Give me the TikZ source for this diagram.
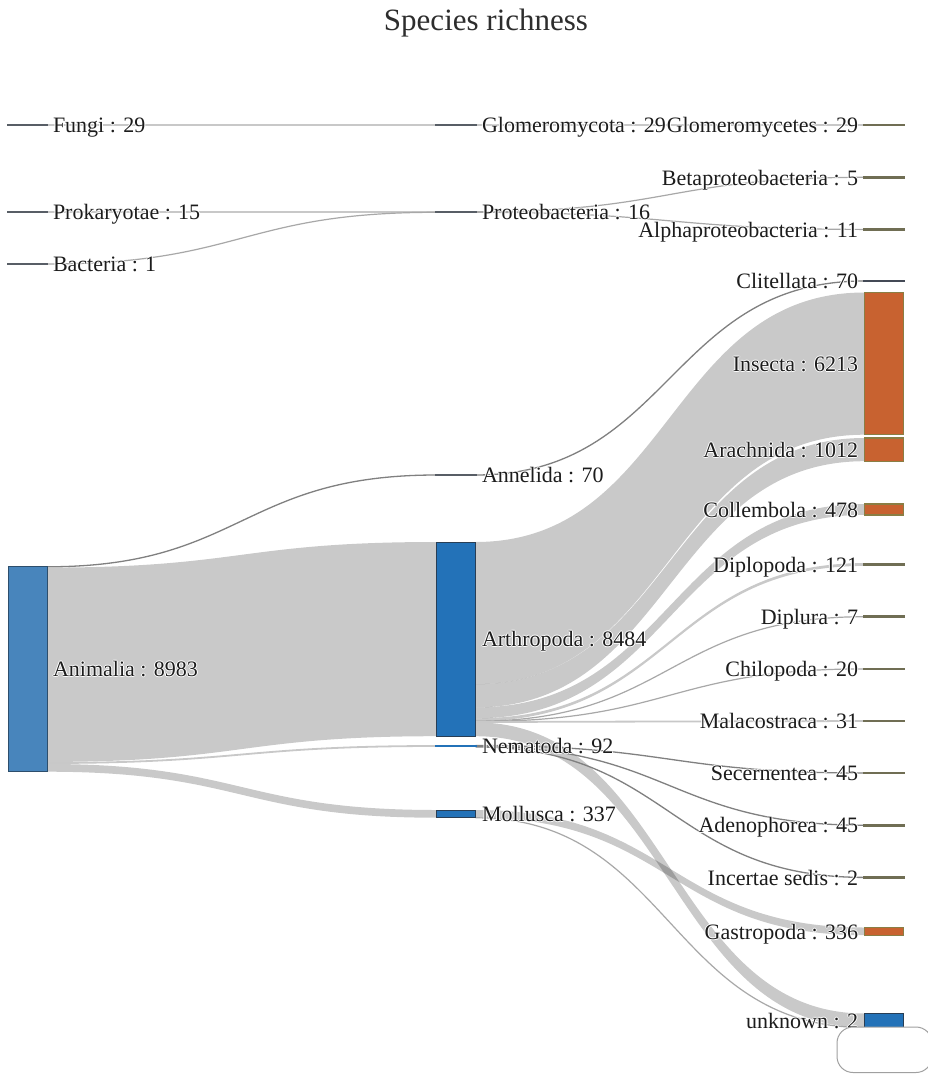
\documentclass[tikz,border=0pt]{standalone}
\usepackage{fontspec}
\IfFontExistsTF{Liberation Serif}{\newfontfamily\lsf{Liberation Serif}}{\newfontfamily\lsf{DejaVu Serif}}
\usetikzlibrary{calc}
\pgfdeclarelayer{bg}
\pgfsetlayers{bg,main}
\definecolor{lnkc}{RGB}{200,200,200}
\definecolor{lnkm}{RGB}{168,168,168}
\definecolor{lnkd}{RGB}{128,128,128}
\definecolor{gnode}{RGB}{88,94,102}
\definecolor{onode}{RGB}{112,110,84}
\definecolor{slate}{RGB}{68,74,86}
\definecolor{animfill}{RGB}{72,133,188}
\definecolor{animdraw}{RGB}{45,78,108}
\definecolor{bluefill}{RGB}{35,114,184}
\definecolor{bluedraw}{RGB}{40,62,85}
\definecolor{orfill}{RGB}{200,98,48}
\definecolor{ordraw}{RGB}{138,126,68}
\definecolor{txt}{RGB}{28,28,28}
\definecolor{tipc}{RGB}{160,160,160}
\newcommand\halo[1]{{\setbox0\hbox{#1}%
  \rlap{\color{white}\kern1pt\copy0}%
  \rlap{\color{white}\kern-1pt\copy0}%
  \rlap{\color{white}\raise1pt\copy0}%
  \rlap{\color{white}\lower1pt\copy0}%
  \box0}}
\newcommand\band[6]{\fill[band] (#1.east |- 0,#2) .. controls +(195,0) and +(-195,0) .. (#4.west |- 0,#5) -- (#4.west |- 0,#6) .. controls +(-195,0) and +(195,0) .. (#1.east |- 0,#3) -- cycle;}
\newcommand\lnk[5][lkmid]{\draw[#1] (#2.east |- 0,#3) .. controls +(195,0) and +(-195,0) .. (#4.west |- 0,#5);}
\tikzset{
  nd/.style={inner sep=0pt, outer sep=0pt, minimum width=39pt, line width=1pt, draw},
  thinnd/.style={nd, minimum height=0.6pt, line width=2.2pt},
  gthin/.style={thinnd, draw=gnode, fill=gnode},
  othin/.style={thinnd, draw=onode, fill=onode},
  bluebox/.style={nd, fill=bluefill, draw=bluedraw},
  orbox/.style={nd, fill=orfill, draw=ordraw, line width=1.4pt},
  lbl/.style={inner sep=0pt, outer sep=0pt, font=\lsf\fontsize{22}{24}\selectfont, text=txt},
  lleft/.style={lbl, anchor=base west},
  lright/.style={lbl, anchor=base east},
  band/.style={fill=black, fill opacity=0.21},
  lklight/.style={draw=lnkc, line width=1.8pt},
  lkmid/.style={draw=lnkm, line width=1.2pt},
  lkdark/.style={draw=lnkd, line width=1.3pt},
}
\begin{document}
\begin{tikzpicture}[x=1pt,y=-1pt]
\useasboundingbox (0,0) rectangle (928,1074);
% title
\node[inner sep=0pt, anchor=base, font=\lsf\fontsize{31}{34}\selectfont, text={rgb,255:red,45;green,45;blue,45}] (title) at (486,30) {Species richness};

% ---------- nodes (column 1)
\node[gthin] (fungi) at (27.5,125) {};
\node[gthin] (prok) at (27.5,212) {};
\node[gthin] (bact) at (27.5,264) {};
\node[nd, minimum height=205.7pt, fill=animfill, draw=animdraw] (anim) at (27.5,668.85) {};
% column 2
\node[gthin] (glomo) at (456,125) {};
\node[gthin] (proteo) at (456,212) {};
\node[gthin] (annel) at (456,475) {};
\node[bluebox, minimum height=194.2pt] (arth) at (456,639.1) {};
\node[thinnd, draw=bluefill, fill=bluefill] (nema) at (456,746) {};
\node[bluebox, minimum height=7.7pt] (moll) at (456,813.85) {};
% column 3
\node[othin] (glomc) at (884,125) {};
\node[othin] (beta) at (884,177.3) {};
\node[othin] (alpha) at (884,229.4) {};
\node[thinnd, draw=slate, fill=slate] (clit) at (884,281) {};
\node[orbox, minimum height=142.2pt] (ins) at (884,363.6) {};
\node[orbox, minimum height=23.2pt] (arach) at (884,449.6) {};
\node[orbox, minimum height=10.9pt] (coll) at (884,509.45) {};
\node[othin] (dipl) at (884,564.5) {};
\node[othin] (diplu) at (884,616.7) {};
\node[othin] (chil) at (884,668.9) {};
\node[othin] (mala) at (884,721) {};
\node[othin] (secer) at (884,773) {};
\node[othin] (adeno) at (884,825.2) {};
\node[othin] (incert) at (884,877.4) {};
\node[orbox, minimum height=7.7pt] (gastro) at (884,931.35) {};
\node[bluebox, minimum height=14pt] (unk) at (884,1020.5) {};

% ---------- links (behind nodes)
\begin{pgfonlayer}{bg}
\fill[white] (0,0) rectangle (928,1074);
\band{anim}{567.6}{761.9}{arth}{542}{736.2}
\band{anim}{764}{771.7}{moll}{810}{817.7}
\band{arth}{542}{684.2}{ins}{292.5}{434.7}
\band{arth}{684.2}{707.4}{arach}{438}{461.2}
\band{arth}{707.4}{718.3}{coll}{504}{514.9}
\band{arth}{718.3}{721.1}{dipl}{563.1}{565.9}
\band{arth}{722.4}{736.2}{unk}{1013.5}{1027.3}
\band{moll}{810}{817.7}{gastro}{927.5}{935.2}
\lnk[lklight]{fungi}{125}{glomo}{125}
\lnk[lklight]{glomo}{125}{glomc}{125}
\lnk[lklight]{prok}{211.8}{proteo}{211.8}
\lnk[lkmid]{bact}{264}{proteo}{212.3}
\lnk[lkmid]{proteo}{211.7}{beta}{177.3}
\lnk[lkmid]{proteo}{212.3}{alpha}{229.4}
\lnk[lkdark]{anim}{566.8}{annel}{475}
\lnk[lkdark]{annel}{475}{clit}{281}
\lnk[lklight]{anim}{763}{nema}{746}
\lnk[lkmid]{arth}{721.2}{diplu}{616.7}
\lnk[lkmid]{arth}{721.5}{chil}{668.9}
\lnk[lklight]{arth}{722}{mala}{721}
\lnk[lkdark]{nema}{745.5}{secer}{773}
\lnk[lkdark]{nema}{746.3}{adeno}{825.2}
\lnk[lkdark]{nema}{747}{incert}{877.4}
\lnk[lkmid]{moll}{817.8}{unk}{1027.5}
\end{pgfonlayer}

% ---------- labels
\node[lleft] (fungi-l) at (53,132.7) {\halo{Fungi : 29}};
\node[lleft] (prok-l) at (53,219.7) {\halo{Prokaryotae : 15}};
\node[lleft] (bact-l) at (53,271.7) {\halo{Bacteria : 1}};
\node[lleft] (anim-l) at (53,676.2) {\halo{Animalia : 8983}};
\node[lleft] (glomo-l) at (482,132.7) {\halo{Glomeromycota : 29}};
\node[lleft] (proteo-l) at (482,219.7) {\halo{Proteobacteria : 16}};
\node[lleft] (annel-l) at (482,482.7) {\halo{Annelida : 70}};
\node[lleft] (arth-l) at (482,646.8) {\halo{Arthropoda : 8484}};
\node[lleft] (nema-l) at (482,753.7) {\halo{Nematoda : 92}};
\node[lleft] (moll-l) at (482,821.5) {\halo{Mollusca : 337}};
\node[lright] (glomc-l) at (858,132.7) {\halo{Glomeromycetes : 29}};
\node[lright] (beta-l) at (858,185) {\halo{Betaproteobacteria : 5}};
\node[lright] (alpha-l) at (858,237.1) {\halo{Alphaproteobacteria : 11}};
\node[lright] (clit-l) at (858,288.7) {\halo{Clitellata : 70}};
\node[lright] (ins-l) at (858,371.3) {\halo{Insecta : 6213}};
\node[lright] (arach-l) at (858,457.3) {\halo{Arachnida : 1012}};
\node[lright] (coll-l) at (858,517.2) {\halo{Collembola : 478}};
\node[lright] (dipl-l) at (858,572.2) {\halo{Diplopoda : 121}};
\node[lright] (diplu-l) at (858,624.4) {\halo{Diplura : 7}};
\node[lright] (chil-l) at (858,676.6) {\halo{Chilopoda : 20}};
\node[lright] (mala-l) at (858,728.7) {\halo{Malacostraca : 31}};
\node[lright] (secer-l) at (858,780.7) {\halo{Secernentea : 45}};
\node[lright] (adeno-l) at (858,832.9) {\halo{Adenophorea : 45}};
\node[lright] (incert-l) at (858,885.1) {\halo{Incertae sedis : 2}};
\node[lright] (gastro-l) at (858,939) {\halo{Gastropoda : 336}};
\node[lright] (unk-l) at (858,1028.2) {\halo{unknown : 2}};

% partially visible rounded box at bottom right
\draw[draw=tipc, line width=1pt, rounded corners=16pt, fill=white] (837,1027) rectangle (932,1072.5);
\end{tikzpicture}
\end{document}
